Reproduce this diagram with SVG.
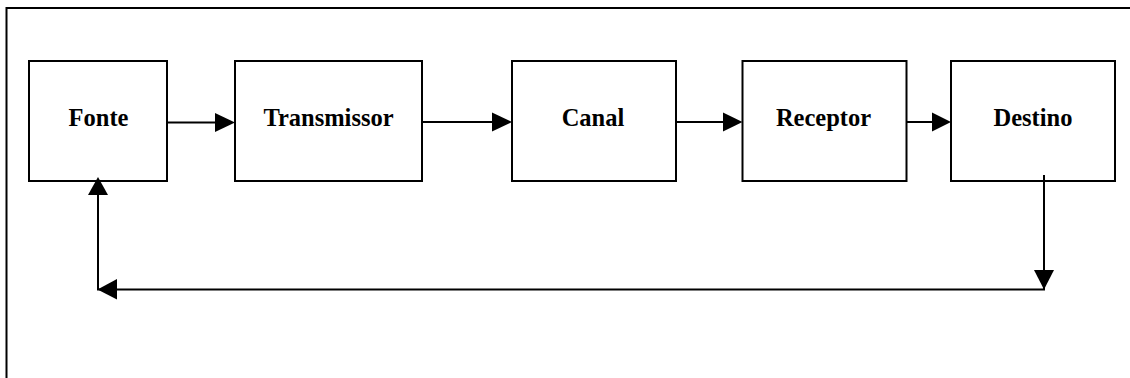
<svg xmlns="http://www.w3.org/2000/svg" width="1130" height="378" viewBox="0 0 1130 378">
<style>
.box{fill:#fff;stroke:#000;stroke-width:2}
.lbl{font-family:"Liberation Serif","Times New Roman",serif;font-weight:bold;font-size:24.5px;fill:#000;text-anchor:middle}
.ln{fill:none;stroke:#000;stroke-width:2}
.hd{fill:#000;stroke:none}
</style>
<rect width="1130" height="378" fill="#fff"/>
<path class="ln" d="M6.5,378 V8 H1130"/>
<g id="fonte"><rect class="box" x="29" y="61" width="138" height="120"/><text class="lbl" x="98.5" y="125.5">Fonte</text></g>
<g id="transmissor"><rect class="box" x="235" y="61" width="187" height="120"/><text class="lbl" x="328.5" y="125.5">Transmissor</text></g>
<g id="canal"><rect class="box" x="512" y="61" width="164" height="120"/><text class="lbl" x="593" y="125.5">Canal</text></g>
<g id="receptor"><rect class="box" x="742.5" y="61" width="164" height="120"/><text class="lbl" x="823.5" y="125.5">Receptor</text></g>
<g id="destino"><rect class="box" x="951" y="61" width="164" height="120"/><text class="lbl" x="1033" y="125.5">Destino</text></g>
<g id="connectors">
<line class="ln" x1="167" y1="122.5" x2="216" y2="122.5"/>
<polygon class="hd" points="215,113 235,122.5 215,132"/>
<line class="ln" x1="422" y1="122" x2="493" y2="122"/>
<polygon class="hd" points="492,112.5 512,122 492,131.5"/>
<line class="ln" x1="676" y1="122" x2="724" y2="122"/>
<polygon class="hd" points="723,112.5 742.5,122 723,131.5"/>
<line class="ln" x1="906.5" y1="122" x2="933" y2="122"/>
<polygon class="hd" points="932,112.5 951,122 932,131.5"/>
<polyline class="ln" points="1044,175 1044,289.5 98,289.5 98,194"/>
<polygon class="hd" points="1034,270 1054,270 1044,289.5"/>
<polygon class="hd" points="117,279 97.5,289.5 117,299.5"/>
<polygon class="hd" points="88,195 98,177 108,195"/>
</g>
</svg>
